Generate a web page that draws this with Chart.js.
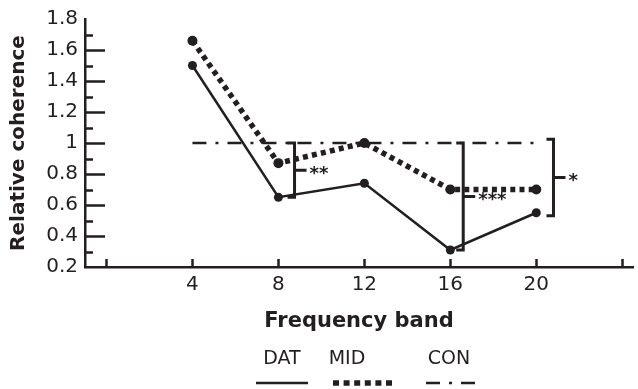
<!DOCTYPE html>
<html>
<head>
<meta charset="utf-8">
<script src="https://cdn.jsdelivr.net/npm/chart.js@4.4.1/dist/chart.umd.min.js"></script>
<style>
  html, body { margin: 0; padding: 0; background: #ffffff; }
  #wrap { width: 638px; height: 389px; }
</style>
</head>
<body>
<div id="wrap"><canvas id="c" width="638" height="389"></canvas></div>
<script>
// Frequency bands (x positions)
const bands = [4, 8, 12, 16, 20];
// Relative coherence per group
const datValues = [1.5, 0.65, 0.74, 0.31, 0.55];
const midValues = [1.66, 0.87, 1.0, 0.70, 0.70];
const conValues = [1.0, 1.0, 1.0, 1.0, 1.0];
const seriesNames = ['DAT', 'MID', 'CON'];

// Axis ticks
const xTickValues = [0, 4, 8, 12, 16, 20, 24];
const xTickLabels = ['', '4', '8', '12', '16', '20', ''];
const yMajorTicks = [0.2, 0.4, 0.6, 0.8, 1.0, 1.2, 1.4, 1.6, 1.8];
const yTickLabels = ['0.2', '0.4', '0.6', '0.8', '1', '1.2', '1.4', '1.6', '1.8'];
const yMinorTicks = [0.3, 0.5, 0.7, 0.9, 1.1, 1.3, 1.5, 1.7];

// Significance brackets
const bracketX = [8.75, 16.6, 20.8];
const bracketTop = [1.0, 1.0, 1.025];
const bracketBottom = [0.65, 0.31, 0.53];
const bracketLabels = ['**', '***', '*'];

const INK = '#231f20';
const FONT = "'DejaVu Sans', sans-serif";

const toXY = (vals) => bands.map((b, i) => ({ x: b, y: vals[i] }));

// Inward tick marks on both axes
const innerTicks = {
  id: 'innerTicks',
  afterDraw(chart) {
    const { ctx, chartArea, scales } = chart;
    const xs = scales.x, ys = scales.y;
    ctx.save();
    ctx.strokeStyle = INK;
    ctx.lineWidth = 2.5;
    ctx.lineCap = 'butt';
    ctx.beginPath();
    yMajorTicks.forEach(v => {
      if (v <= ys.min || v >= ys.max) return;
      const y = Math.round(ys.getPixelForValue(v)) + 0.5;
      ctx.moveTo(chartArea.left, y);
      ctx.lineTo(chartArea.left + 20, y);
    });
    yMinorTicks.forEach(v => {
      const y = Math.round(ys.getPixelForValue(v)) + 0.5;
      ctx.moveTo(chartArea.left, y);
      ctx.lineTo(chartArea.left + 8, y);
    });
    xTickValues.forEach(v => {
      const x = Math.round(xs.getPixelForValue(v)) + 0.5;
      ctx.moveTo(x, chartArea.bottom);
      ctx.lineTo(x, chartArea.bottom - 8);
    });
    ctx.stroke();
    ctx.restore();
  }
};

// Significance brackets with star labels
const brackets = {
  id: 'brackets',
  afterDatasetsDraw(chart) {
    const { ctx, scales } = chart;
    const xs = scales.x, ys = scales.y;
    ctx.save();
    ctx.strokeStyle = INK;
    ctx.fillStyle = INK;
    ctx.lineWidth = 3;
    ctx.lineJoin = 'miter';
    bracketX.forEach((bx, i) => {
      const x = xs.getPixelForValue(bx);
      const yt = ys.getPixelForValue(bracketTop[i]);
      const yb = ys.getPixelForValue(bracketBottom[i]);
      const ym = (yt + yb) / 2;
      ctx.beginPath();
      ctx.moveTo(x - 7, yt);
      ctx.lineTo(x, yt);
      ctx.lineTo(x, yb);
      ctx.lineTo(x - 7, yb);
      ctx.moveTo(x, ym);
      ctx.lineTo(x + 12, ym);
      ctx.stroke();
      ctx.font = 'bold 18px ' + FONT;
      ctx.textAlign = 'left';
      ctx.textBaseline = 'middle';
      ctx.fillText(bracketLabels[i], x + 15, ym + 4);
    });
    ctx.restore();
  }
};

// Legend: name above a sample of each line style
const underLegend = {
  id: 'underLegend',
  afterDraw(chart) {
    const { ctx, chartArea } = chart;
    const cx = (chartArea.left + chartArea.right) / 2;
    const items = [
      { textX: cx - 77, x0: cx - 103, x1: cx - 51 },
      { textX: cx - 12, x0: cx - 26, x1: cx + 33 },
      { textX: cx + 90, x0: cx + 67, x1: cx + 117 }
    ];
    ctx.save();
    ctx.fillStyle = INK;
    ctx.strokeStyle = INK;
    ctx.font = '19px ' + FONT;
    ctx.textAlign = 'center';
    ctx.textBaseline = 'middle';
    chart.data.datasets.forEach((ds, i) => {
      const it = items[i];
      ctx.fillText(ds.label, it.textX, 359);
      ctx.beginPath();
      ctx.lineWidth = ds.legendWidth;
      ctx.setLineDash(ds.legendDash);
      ctx.moveTo(it.x0, 383);
      ctx.lineTo(it.x1, 383);
      ctx.stroke();
    });
    ctx.restore();
  }
};

new Chart(document.getElementById('c'), {
  type: 'line',
  data: {
    datasets: [
      {
        label: seriesNames[0],
        data: toXY(datValues),
        borderColor: INK,
        backgroundColor: INK,
        borderWidth: 2.5,
        pointRadius: 4.5,
        pointBorderWidth: 0,
        legendWidth: 2.5,
        legendDash: []
      },
      {
        label: seriesNames[1],
        data: toXY(midValues),
        borderColor: INK,
        backgroundColor: INK,
        borderWidth: 5.5,
        borderDash: [5, 4.2],
        borderCapStyle: 'butt',
        pointRadius: 5,
        pointBorderWidth: 0,
        legendWidth: 5.5,
        legendDash: [6, 4.6]
      },
      {
        label: seriesNames[2],
        data: toXY(conValues),
        borderColor: INK,
        backgroundColor: INK,
        borderWidth: 2.5,
        borderDash: [14, 9, 3, 9],
        pointRadius: 0,
        legendWidth: 2.5,
        legendDash: [14, 9, 3, 9]
      }
    ]
  },
  options: {
    responsive: false,
    animation: false,
    devicePixelRatio: 1,
    layout: { padding: { top: 13, right: 2, bottom: 50, left: 0 } },
    plugins: {
      legend: { display: false },
      tooltip: { enabled: false }
    },
    elements: { line: { tension: 0 } },
    scales: {
      x: {
        type: 'linear',
        min: -1,
        max: 24.5,
        afterBuildTicks: (s) => { s.ticks = xTickValues.map(v => ({ value: v })); },
        afterFit: (s) => { s.height = 72; },
        grid: { display: false, drawTicks: false },
        border: { display: true, color: INK, width: 2.5 },
        ticks: {
          color: INK,
          padding: 6,
          maxRotation: 0,
          autoSkip: false,
          font: { family: FONT, size: 20 },
          callback: (v) => { const i = xTickValues.indexOf(v); return i >= 0 ? xTickLabels[i] : ''; }
        },
        title: {
          display: true,
          text: 'Frequency band',
          color: INK,
          font: { family: FONT, size: 21, weight: 'bold' },
          padding: { top: 0, bottom: 5 }
        }
      },
      y: {
        type: 'linear',
        min: 0.2,
        max: 1.8,
        afterBuildTicks: (s) => { s.ticks = yMajorTicks.map(v => ({ value: v })); },
        afterFit: (s) => { s.width = 85; },
        grid: { display: false, drawTicks: false },
        border: { display: true, color: INK, width: 2.5 },
        ticks: {
          color: INK,
          padding: 7,
          autoSkip: false,
          font: { family: FONT, size: 20 },
          callback: (v) => {
            const i = yMajorTicks.findIndex(t => Math.abs(t - v) < 1e-6);
            return i >= 0 ? yTickLabels[i] : '';
          }
        },
        title: {
          display: true,
          text: 'Relative coherence',
          color: INK,
          font: { family: FONT, size: 20, weight: 'bold' },
          padding: { top: 7, bottom: 0 }
        }
      }
    }
  },
  plugins: [innerTicks, brackets, underLegend]
});
</script>
</body>
</html>
